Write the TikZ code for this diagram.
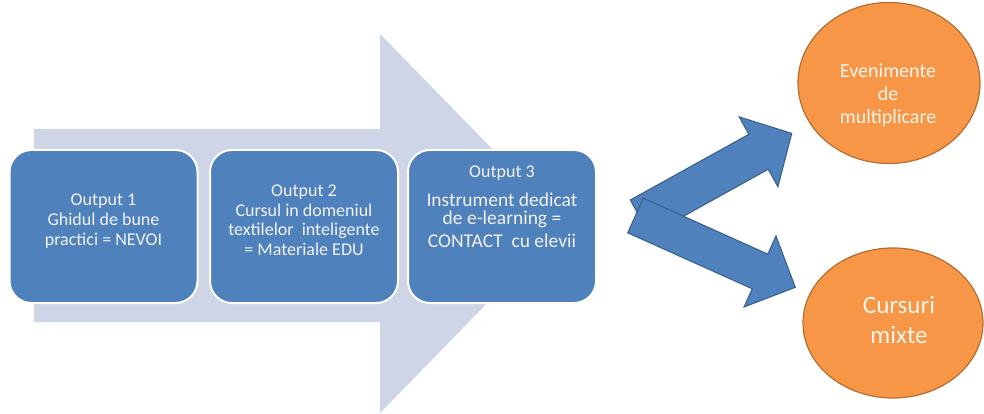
\documentclass[tikz,border=0pt]{standalone}
\usepackage{fontspec}
\setmainfont{Carlito}
\usetikzlibrary{shapes.geometric}
\definecolor{bigarrow}{HTML}{CDD5E6}
\definecolor{boxblue}{HTML}{4F81BD}
\definecolor{arrowedge}{HTML}{385D8A}
\definecolor{orng}{HTML}{F79646}
\definecolor{orngedge}{HTML}{B66D31}
\definecolor{boxtext}{HTML}{F2F2F2}
\begin{document}
\begin{tikzpicture}[x=1pt,y=-1pt,
  outbox/.style={draw=white, line width=2pt, fill=boxblue, rounded corners=22pt, minimum width=188pt, minimum height=153pt, inner sep=0pt},
  boxtxt/.style={text=boxtext, align=center, font=\fontsize{18}{19.5}\selectfont, inner sep=0pt},
  oval/.style={ellipse, draw=orngedge, line width=1.2pt, fill=orng, inner sep=0pt},
  ovaltxt/.style={text=white!90!orng, align=center, inner sep=0pt},
  blockarrow/.style={fill=boxblue, draw=arrowedge, line width=1pt, line join=miter}
]
\useasboundingbox (0,0) rectangle (984,414);
% big background arrow
\fill[bigarrow] (34,129) -- (380,129) -- (380,34) -- (565,223.5) -- (380,413) -- (380,322) -- (34,322) -- cycle;
% output boxes
\node[outbox] (b1) at (103.5,226.5) {};
\node[outbox] (b2) at (304,226.5) {};
\node[outbox] (b3) at (502,226.5) {};
\node[boxtxt] (t1) at (103.5,221) {Output 1\\[1pt]Ghidul de bune\\practici = NEVOI};
\node[boxtxt] (t2) at (304,220) {Output 2\\Cursul in domeniul\\textilelor\ \ inteligente\\= Materiale EDU};
\node[boxtxt] (o3) at (502,173) {Output 3};
\node[boxtxt, font=\fontsize{19.5}{18.5}\selectfont] (t3) at (502,220) {Instrument dedicat\\de e-learning =\\[4pt]CONTACT\ \ cu elevii};
% small block arrows
\begin{scope}[shift={(640,217.5)}, rotate=29]
\draw[blockarrow] (0,-20) -- (135.5,-20) -- (135.5,-40) -- (173.5,0) -- (135.5,40) -- (135.5,20) -- (0,20) -- cycle;
\end{scope}
\begin{scope}[shift={(635.5,215.5)}, rotate=-24.2]
\draw[blockarrow] (0,-19) -- (136.5,-19) -- (136.5,-39) -- (175.2,0) -- (136.5,39) -- (136.5,19) -- (0,19) -- cycle;
\end{scope}
% ellipses
\node[oval, minimum width=182pt, minimum height=161pt] (e1) at (889,83) {};
\node[oval, minimum width=180pt, minimum height=150pt] (e2) at (893,323) {};
\node[ovaltxt, font=\fontsize{20}{23}\selectfont] (et1) at (888,95) {Evenimente\\de\\multiplicare};
\node[ovaltxt, font=\fontsize{25}{30}\selectfont] (et2) at (899,320) {Cursuri\\mixte};
\end{tikzpicture}
\end{document}
